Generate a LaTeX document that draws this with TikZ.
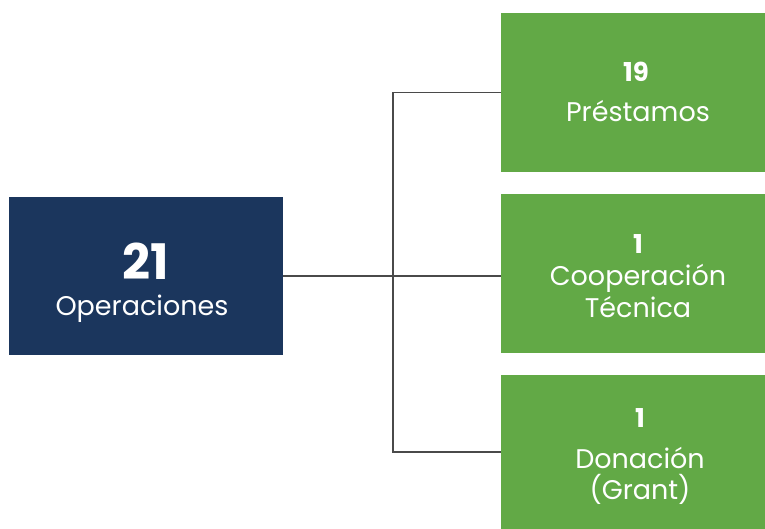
\documentclass[tikz,border=0pt]{standalone}
\usepackage{fontspec}
\setmainfont{Poppins}
\definecolor{navy}{HTML}{1B365D}
\definecolor{leaf}{HTML}{62A946}
\definecolor{linegray}{HTML}{4A4A4A}
\tikzset{
  navybox/.style={fill=navy, inner sep=0pt, minimum width=274pt, minimum height=158pt},
  greenbox/.style={fill=leaf, inner sep=0pt, minimum width=264pt, minimum height=159pt},
  bignum/.style={text=white, font=\fontsize{49}{50}\selectfont\bfseries},
  smallnum/.style={text=white, font=\fontsize{26}{30}\selectfont\bfseries},
  lbl/.style={text=white, align=center, font=\fontsize{27}{31.5}\selectfont},
  link/.style={draw=linegray, line width=1.2pt}
}
\begin{document}
\begin{tikzpicture}[x=1pt,y=-1pt]
\useasboundingbox (0,0) rectangle (765,529);
\node[navybox] (ops) at (146,276) {}; \node[bignum] (opsnum) at (146,261) {21}; \node[lbl] (opslbl) at (142,309) {Operaciones};
\node[greenbox] (prest) at (633,92.5) {}; \node[smallnum] (prestnum) at (636,72) {19}; \node[lbl] (prestlbl) at (638,111) {Préstamos};
\node[greenbox] (coop) at (633,273.5) {}; \node[smallnum] (coopnum) at (638,244) {1}; \node[lbl] (cooplbl) at (638,291) {Cooperación\\Técnica};
\node[greenbox, minimum height=154pt] (don) at (633,452) {}; \node[smallnum] (donnum) at (640,418) {1}; \node[lbl] (donlbl) at (640,476) {Donación\\(Grant)};
\coordinate (junc) at (393,276);
\draw[link] (ops.east |- junc) -- (junc -| coop.west);
\draw[link] (prest.west) -- (prest.west -| junc) -- (don.west -| junc) -- (don.west);
\end{tikzpicture}
\end{document}
